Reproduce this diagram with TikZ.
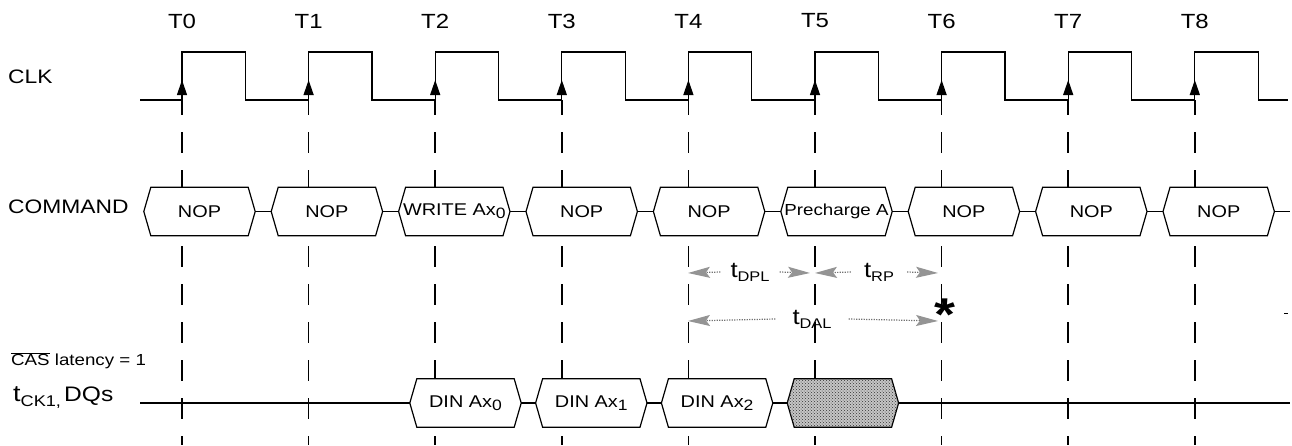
\documentclass[tikz,border=0pt]{standalone}
\usepackage{fontspec}
\setmainfont{Liberation Sans}[FakeStretch=1.17]
\usetikzlibrary{arrows.meta,patterns}
\pgfdeclarelayer{bg}
\pgfdeclarelayer{mid}
\pgfsetlayers{bg,mid,main}
\newcommand\lblfont{\fontsize{19.5}{22}\selectfont}
\newcommand\boxfont{\fontsize{17}{19}\selectfont}
\newcommand\mysub[1]{\raisebox{-3pt}{\fontsize{15}{15}\selectfont #1}}
\newcommand\tsub[1]{{\fontsize{22}{24}\selectfont t}\raisebox{-4pt}{\fontsize{14}{15}\selectfont #1}}
\newcommand\hexpath[1]{(#1.west) -- ([xshift=7pt]#1.north west) -- ([xshift=-7pt]#1.north east) -- (#1.east) -- ([xshift=-7pt]#1.south east) -- ([xshift=7pt]#1.south west) -- cycle}
\begin{document}
\begin{tikzpicture}[x=1pt,y=-1pt,
  sig/.style={line width=1.2pt, line join=miter},
  vdash/.style={line width=1.5pt, dash pattern=on 21pt off 17pt, dash phase=6pt},
  hexbox/.style={minimum width=111pt, minimum height=48pt, inner sep=0pt, font=\boxfont},
  lbl/.style={font=\lblfont, inner sep=0pt},
  tarrow/.style={black!55, line width=1.2pt, dash pattern=on 1.2pt off 1.3pt,
     -{Stealth[length=22pt,width=11pt,inset=4pt,color=black!42]}},
  tlab/.style={inner ysep=0pt, font=\boxfont}]
\useasboundingbox (0,0) rectangle (1292,445);

% clock edges, labels, dashed lines
\foreach \i in {0,...,8}{
  \coordinate (T\i) at ({182+126.6*\i},100);
  \node[lbl, font=\fontsize{20.5}{22}\selectfont] (tl\i) at ({182+126.6*\i},21) {T\i};
  \draw[-{Triangle[length=15pt,width=10pt]}, line width=1.2pt] (T\i) -- ++(0,-20);
  \begin{pgfonlayer}{bg}
    \draw[vdash] (T\i) -- ++(0,345);
  \end{pgfonlayer}
}
\draw[sig] (140,100) \foreach \i in {0,...,8}{ -- ({182+126.6*\i},100) -- ++(0,-48) -- ++(63.3,0) -- ++(0,48) } -- (1288,100);

% row labels
\node[lbl, anchor=west] (clk) at (8,77) {CLK};
\node[lbl, anchor=west] (cmd) at (8,207) {COMMAND};
\node[anchor=west, inner sep=0pt, font=\fontsize{16}{18}\selectfont] (cas) at (11,361) {$\overline{\mbox{CAS}}$ latency = 1};
\node[anchor=west, inner sep=0pt] (dql) at (13,398) {{\fontsize{23}{25}\selectfont t}\raisebox{-5pt}{\fontsize{15.5}{17}\selectfont CK1,} {\fontsize{21}{23}\selectfont DQs}};

% command boxes
\foreach \i/\t in {0/NOP,1/NOP,2/{WRITE Ax\mysub{0}},3/NOP,4/NOP,5/{{\fontsize{16}{19}\selectfont Precharge A}},6/NOP,7/NOP,8/NOP}{
  \node[hexbox] (c\i) at ({199.5+127.4*\i},211.5) {\t};
  \begin{pgfonlayer}{mid}
    \draw[sig, fill=white] \hexpath{c\i};
  \end{pgfonlayer}
}
\foreach \i/\j in {0/1,1/2,2/3,3/4,4/5,5/6,6/7,7/8}{
  \draw[sig] (c\i.east) -- (c\j.west);
}
\coordinate (cend) at (1290,211.5);
\draw[sig] (c8.east) -- (cend);

% DQ boxes
\foreach \k/\t in {0/{DIN Ax\mysub{0}},1/{DIN Ax\mysub{1}},2/{DIN Ax\mysub{2}},3/{}}{
  \node[hexbox] (d\k) at ({465.5+125.8*\k},403) {\t};
}
\begin{pgfonlayer}{mid}
  \foreach \k in {0,1,2}{\draw[sig, fill=white] \hexpath{d\k};}
  \draw[sig, fill=gray!45, postaction={pattern=crosshatch dots, pattern color=gray!40!black}] \hexpath{d3};
\end{pgfonlayer}
\coordinate (dqs) at (140,403);
\coordinate (dqe) at (1290,403);
\draw[sig] (dqs) -- (d0.west);
\draw[sig] (d0.east) -- (d1.west);
\draw[sig] (d1.east) -- (d2.west);
\draw[sig] (d2.east) -- (d3.west);
\draw[sig] (d3.east) -- (dqe);

% timing arrows
\coordinate (a4) at (688,273);
\coordinate (a5l) at (810,273);
\coordinate (a5r) at (815,273);
\coordinate (a6) at (938,273);
\coordinate (b4) at (688,321);
\coordinate (b6) at (938,321);
\node[tlab, inner xsep=10pt] (dpl) at (750,272) {\tsub{DPL}};
\node[tlab, inner xsep=13pt] (rp) at (879,272) {\tsub{RP}};
\node[tlab, inner xsep=17pt] (dal) at (812,319) {\tsub{DAL}};
\draw[tarrow] (dpl.west) -- (a4);
\draw[tarrow] (dpl.east) -- (a5l);
\draw[tarrow] (rp.west) -- (a5r);
\draw[tarrow] (rp.east) -- (a6);
\draw[tarrow] (dal.west) -- (b4);
\draw[tarrow] (dal.east) -- (b6);

\node[anchor=base, inner sep=0pt, font=\bfseries\fontsize{46}{46}\selectfont] (star) at (945,330) {*};
\draw[line width=1pt] (1284,313) -- (1288,313);
\end{tikzpicture}
\end{document}
